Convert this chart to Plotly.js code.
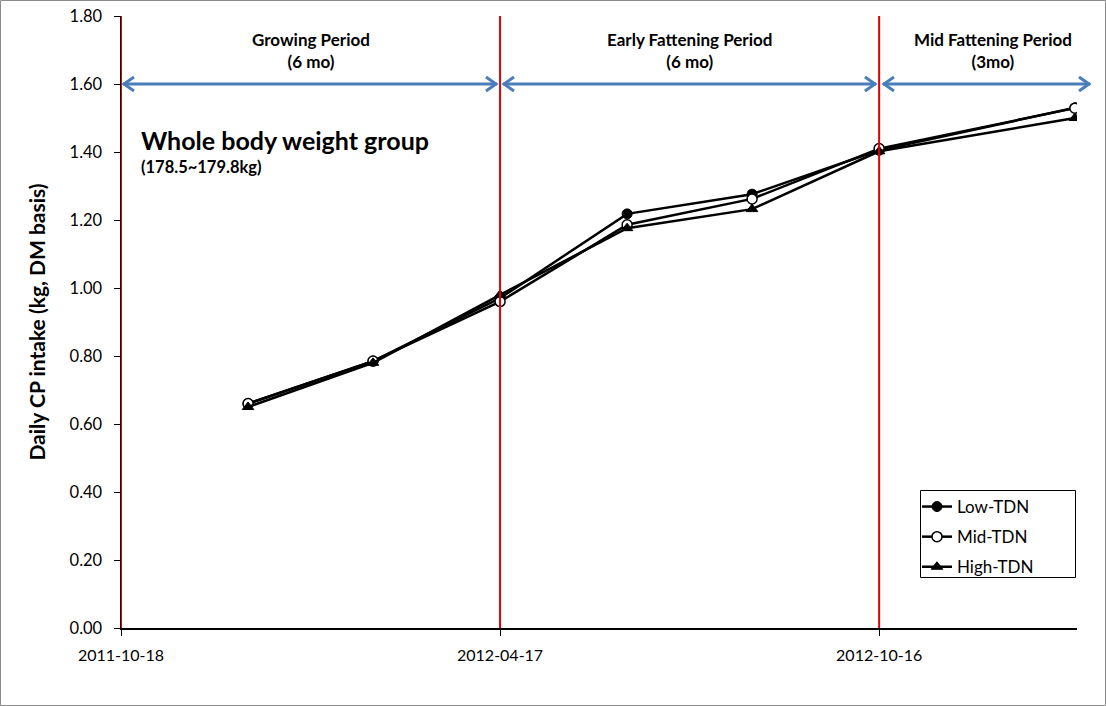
<!DOCTYPE html>
<html>
<head>
<meta charset="utf-8">
<script src="https://cdn.plot.ly/plotly-3.0.1.min.js"></script>
<style>html,body{margin:0;padding:0;background:#fff;}#chart{width:1106px;height:706px;}</style>
</head>
<body>
<div id="chart"></div>
<script>
// ---- data ----
const dates = ["2011-12-18", "2012-02-16", "2012-04-17", "2012-06-17", "2012-08-16", "2012-10-16", "2013-01-18"];
const lowTDN  = [0.66, 0.785, 0.97, 1.218, 1.276, 1.405, 1.53];
const midTDN  = [0.66, 0.785, 0.96, 1.186, 1.262, 1.41, 1.529];
const highTDN = [0.65, 0.78, 0.98, 1.176, 1.232, 1.402, 1.50];
const seriesNames = ["Low-TDN", "Mid-TDN", "High-TDN"];
const periodBounds = ["2011-10-18", "2012-04-17", "2012-10-16"];
const tickLabels = ["2011-10-18", "2012-04-17", "2012-10-16"];
const periodLabels = ["Growing Period<br>(6 mo)", "Early Fattening Period<br>(6 mo)", "Mid Fattening Period<br>(3mo)"];
const yTicks = [0, 0.2, 0.4, 0.6, 0.8, 1.0, 1.2, 1.4, 1.6, 1.8];

const FONT = "Lato, 'Open Sans', sans-serif";
const lineW = 2.5;

const traces = [
  {x: dates, y: lowTDN, name: seriesNames[0], legendgroup: "g1", type: "scatter", mode: "lines+markers",
   line: {color: "#000", width: lineW},
   marker: {symbol: "circle", size: 10, color: "#000", line: {color: "#000", width: 1}}},
  {x: dates, y: midTDN, name: seriesNames[1], legendgroup: "g2", type: "scatter", mode: "lines+markers",
   line: {color: "#000", width: lineW},
   marker: {symbol: "circle", size: 10, color: "#fff", line: {color: "#000", width: 1.5}}},
  {x: dates, y: highTDN, name: seriesNames[2], legendgroup: "g3", type: "scatter", mode: "lines+markers",
   line: {color: "#000", width: lineW},
   marker: {symbol: "triangle-up", size: 10, color: "#000", line: {color: "#000", width: 1}}}
];

const px = v => (v - 121) / 956;
const py = v => (628 - v) / 612;

const shapes = [];
// chart border
shapes.push({type: "rect", xref: "paper", yref: "paper",
  x0: px(0.5), x1: px(1105.5), y0: py(705.5), y1: py(0.5),
  line: {color: "#8c8c8c", width: 1}, fillcolor: "rgba(0,0,0,0)", layer: "below"});
// legend box
shapes.push({type: "rect", xref: "paper", yref: "paper",
  x0: px(920.5), x1: px(1075.5), y0: py(577.5), y1: py(490.5),
  line: {color: "#000", width: 1}, fillcolor: "#fff", layer: "above"});
// red period lines
periodBounds.forEach(d => shapes.push({type: "line", xref: "x", yref: "y", x0: d, x1: d, y0: 0, y1: 1.8,
  line: {color: "#e00000", width: 2}, layer: "above"}));
// blue double arrows (paper coords)
const arrowY = 1.6 / 1.8;
const arrowSegs = [[123, 497], [503, 876], [883, 1090]];
const blue = "#4a7ebb";
arrowSegs.forEach(s => {
  const a = px(s[0]), b = px(s[1]);
  shapes.push({type: "line", xref: "paper", yref: "paper", x0: a, x1: b, y0: arrowY, y1: arrowY,
    line: {color: blue, width: 3}});
  shapes.push({type: "path", xref: "paper", yref: "paper", xsizemode: "pixel", ysizemode: "pixel",
    xanchor: a, yanchor: arrowY, path: "M 11,7 L 1,0 L 11,-7", line: {color: blue, width: 3}});
  shapes.push({type: "path", xref: "paper", yref: "paper", xsizemode: "pixel", ysizemode: "pixel",
    xanchor: b, yanchor: arrowY, path: "M -11,7 L -1,0 L -11,-7", line: {color: blue, width: 3}});
});

const annX = [311, 689, 993];
const annotations = periodLabels.map((t, i) => ({
  xref: "paper", yref: "paper", x: px(annX[i]), y: py(50),
  text: "<b>" + t + "</b>", showarrow: false, xanchor: "center", yanchor: "middle",
  font: {family: FONT, size: 17, color: "#000"}, align: "center"
}));
annotations.push({xref: "paper", yref: "paper", x: px(139), y: py(140),
  text: "<b>Whole body weight group</b>", showarrow: false, xanchor: "left", yanchor: "middle",
  font: {family: FONT, size: 25, color: "#000"}});
annotations.push({xref: "paper", yref: "paper", x: px(139), y: py(167),
  text: "<b>(178.5~179.8kg)</b>", showarrow: false, xanchor: "left", yanchor: "middle",
  font: {family: FONT, size: 16.5, color: "#000"}});

const layout = {
  width: 1106, height: 706,
  margin: {l: 121, r: 29, t: 16, b: 78},
  paper_bgcolor: "#fff", plot_bgcolor: "#fff",
  font: {family: FONT, color: "#000"},
  showlegend: true,
  legend: {x: px(917), y: py(489), xanchor: "left", yanchor: "top",
    bgcolor: "rgba(0,0,0,0)", borderwidth: 0,
    font: {family: FONT, size: 17, color: "#000"}, tracegroupgap: 5, itemwidth: 30},
  xaxis: {type: "date", range: ["2011-10-18", "2013-01-19"],
    tickmode: "array", tickvals: periodBounds, ticktext: tickLabels,
    showgrid: false, zeroline: false, showline: true, linecolor: "#000", linewidth: 1.5,
    ticks: "outside", ticklen: 6, tickcolor: "#000", ticklabelstandoff: 6,
    tickfont: {family: "'Liberation Sans Narrow', " + FONT, size: 16, color: "#000"}},
  yaxis: {range: [0, 1.8], tickmode: "array", tickvals: yTicks, tickformat: ".2f",
    showgrid: false, zeroline: false, showline: true, linecolor: "#000", linewidth: 1.5,
    ticks: "outside", ticklen: 6, tickcolor: "#000", ticklabelstandoff: 8,
    tickfont: {family: FONT, size: 16.5, color: "#000"},
    title: {text: "<b>Daily CP intake (kg, DM basis)</b>", font: {family: FONT, size: 21, color: "#000"}, standoff: 18}},
  shapes: shapes,
  annotations: annotations
};

Plotly.newPlot("chart", traces, layout, {displayModeBar: false, staticPlot: true});
</script>
</body>
</html>
